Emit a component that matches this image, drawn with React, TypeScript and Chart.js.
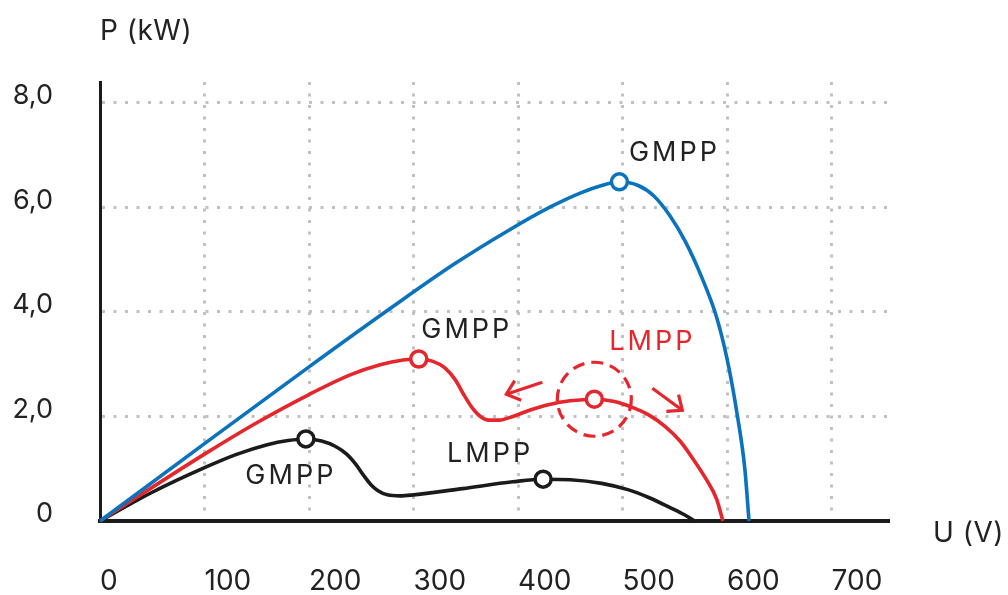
import React, { useEffect, useRef } from "react";
import { Chart, registerables } from "chart.js";
Chart.register(...registerables);

// Axis ticks
const xTickValues = [0, 100, 200, 300, 400, 500, 600, 700];
const yTickValues = [0, 2, 4, 6, 8];

// Blue curve (full irradiance)
const blueU = [0, 100, 200, 280, 340, 390, 430, 460, 480, 497, 515, 530, 545, 560, 575, 590, 600, 610, 617, 621];
const blueP = [0, 1.48, 2.95, 4.1, 4.93, 5.55, 6.0, 6.28, 6.42, 6.49, 6.42, 6.22, 5.85, 5.35, 4.7, 3.9, 3.1, 2.0, 1.0, 0];

// Red curve (partial shading)
const redU = [0, 100, 150, 200, 240, 268, 290, 305, 318, 330, 340, 348, 356, 364, 372, 382, 395, 411, 430, 450, 473, 491, 510, 525, 540, 555, 567, 580, 590, 596];
const redP = [0, 1.28, 1.88, 2.42, 2.8, 2.99, 3.08, 3.1, 3.06, 2.93, 2.7, 2.42, 2.17, 2.0, 1.93, 1.93, 2.0, 2.12, 2.23, 2.3, 2.33, 2.29, 2.17, 2.03, 1.82, 1.53, 1.2, 0.8, 0.42, 0];

// Black curve (heavy shading)
const blackU = [0, 50, 100, 130, 160, 180, 197, 212, 225, 236, 245, 252, 259, 266, 275, 287, 300, 347, 395, 424, 450, 480, 505, 525, 545, 560, 569];
const blackP = [0, 0.55, 1.02, 1.27, 1.46, 1.54, 1.57, 1.53, 1.43, 1.28, 1.08, 0.88, 0.7, 0.58, 0.5, 0.48, 0.5, 0.62, 0.75, 0.8, 0.79, 0.72, 0.6, 0.45, 0.26, 0.11, 0];

// Marked points (MPP)
const blueMarkU = [497];
const blueMarkP = [6.49];
const redMarkU = [305, 473];
const redMarkP = [3.1, 2.33];
const blackMarkU = [197, 424];
const blackMarkP = [1.57, 0.8];

// Point labels
const labelTexts = ["GMPP", "GMPP", "LMPP", "GMPP", "LMPP"];
const labelU = [497, 305, 473, 197, 424];
const labelP = [6.49, 3.1, 2.33, 1.57, 0.8];

const BLUE = "#0b73bd";
const RED = "#e5262c";
const BLACK = "#1b1b1b";
const TEXT = "#222222";
const GRID = "#c2c2c2";
const FONT = "Inter, 'Noto Sans', sans-serif";

const labelStyle = [
  { dx: 55, dy: -29, color: TEXT },
  { dx: 48, dy: -29, color: TEXT },
  { dx: 58, dy: -57, color: RED },
  { dx: -15, dy: 37, color: TEXT },
  { dx: -53, dy: -25, color: TEXT },
];

const zip = (u: number[], p: number[]) => u.map((x, i) => ({ x, y: p[i] }));

const overlay = {
  id: "overlay",
  afterDatasetsDraw(chart: any) {
    const { ctx, scales, chartArea } = chart;
    const xs = scales.x;
    const ys = scales.y;
    ctx.save();
    // point labels
    ctx.font = `400 27px ${FONT}`;
    (ctx as any).letterSpacing = "3px";
    ctx.textAlign = "center";
    ctx.textBaseline = "middle";
    labelTexts.forEach((t, i) => {
      const px = xs.getPixelForValue(labelU[i]) + labelStyle[i].dx;
      const py = ys.getPixelForValue(labelP[i]) + labelStyle[i].dy;
      ctx.fillStyle = labelStyle[i].color;
      ctx.fillText(t, px, py);
    });
    // dashed circle + arrows round red LMPP
    const cx = xs.getPixelForValue(redMarkU[1]);
    const cy = ys.getPixelForValue(redMarkP[1]);
    ctx.strokeStyle = RED;
    ctx.lineWidth = 3.2;
    ctx.setLineDash([12, 7]);
    ctx.beginPath();
    ctx.arc(cx, cy, 37, 0, Math.PI * 2);
    ctx.stroke();
    ctx.setLineDash([]);
    ctx.lineCap = "butt";
    const arrow = (x1: number, y1: number, x2: number, y2: number) => {
      ctx.beginPath();
      ctx.moveTo(x1, y1);
      ctx.lineTo(x2, y2);
      ctx.stroke();
      const a = Math.atan2(y2 - y1, x2 - x1);
      const L = 16;
      ctx.beginPath();
      ctx.moveTo(x2 + L * Math.cos(a + Math.PI - 0.7), y2 + L * Math.sin(a + Math.PI - 0.7));
      ctx.lineTo(x2, y2);
      ctx.lineTo(x2 + L * Math.cos(a + Math.PI + 0.7), y2 + L * Math.sin(a + Math.PI + 0.7));
      ctx.stroke();
    };
    arrow(cx - 52, cy - 17, cx - 88, cy - 5);
    arrow(cx + 58, cy - 11, cx + 88, cy + 11);
    // axis titles
    ctx.fillStyle = TEXT;
    ctx.font = `400 28px ${FONT}`;
    (ctx as any).letterSpacing = "0.5px";
    ctx.textAlign = "left";
    ctx.textBaseline = "middle";
    ctx.fillText("P (kW)", chartArea.left, chartArea.top - 50);
    ctx.fillText("U (V)", chartArea.right + 45, chartArea.bottom + 13);
    ctx.restore();
  },
};

export default function App() {
  const ref = useRef<HTMLCanvasElement | null>(null);
  useEffect(() => {
    if (!ref.current) return;
    const lineDs = (data: any, color: string, order: number) => ({
      type: "line",
      data,
      borderColor: color,
      borderWidth: 3.6,
      pointRadius: 0,
      fill: false,
      cubicInterpolationMode: "monotone",
      order,
      clip: false,
    });
    const markDs = (data: any, color: string) => ({
      type: "line",
      data,
      showLine: false,
      pointRadius: 8,
      pointBorderWidth: 3.5,
      pointBackgroundColor: "#ffffff",
      pointBorderColor: color,
      borderColor: color,
      order: 0,
      clip: false,
    });
    const chart = new Chart(ref.current, {
      type: "line",
      data: {
        datasets: [
          markDs(zip(blueMarkU, blueMarkP), BLUE),
          markDs(zip(redMarkU, redMarkP), RED),
          markDs(zip(blackMarkU, blackMarkP), BLACK),
          lineDs(zip(blueU, blueP), BLUE, 1),
          lineDs(zip(redU, redP), RED, 2),
          lineDs(zip(blackU, blackP), BLACK, 3),
        ] as any,
      },
      options: {
        responsive: false,
        animation: false,
        devicePixelRatio: 1,
        layout: { padding: { left: 0, top: 82, right: 120, bottom: 0 } },
        plugins: { legend: { display: false }, tooltip: { enabled: false } },
        scales: {
          x: {
            type: "linear",
            min: 0,
            max: 754,
            afterBuildTicks: (s: any) => {
              s.ticks = xTickValues.map((v) => ({ value: v }));
            },
            afterFit: (s: any) => {
              s.height = 74;
            },
            grid: {
              drawTicks: false,
              lineWidth: 3,
              color: (c: any) => (c.tick && c.tick.value === 0 ? "rgba(0,0,0,0)" : GRID),
            },
            border: { display: true, color: BLACK, width: 4, dash: [3, 8.5] },
            ticks: {
              align: "start",
              padding: 44,
              color: TEXT,
              font: { family: FONT, size: 28, weight: "400" },
              callback: (v: any) => String(v),
            },
          },
          y: {
            type: "linear",
            min: 0,
            max: 8.4,
            afterBuildTicks: (s: any) => {
              s.ticks = yTickValues.map((v) => ({ value: v }));
            },
            afterFit: (s: any) => {
              s.width = 100;
            },
            grid: {
              drawTicks: false,
              lineWidth: 3,
              color: (c: any) => (c.tick && c.tick.value === 0 ? "rgba(0,0,0,0)" : GRID),
            },
            border: { display: true, color: BLACK, width: 3, dash: [3, 8.5] },
            ticks: {
              padding: 47,
              labelOffset: -7,
              color: TEXT,
              font: { family: FONT, size: 27, weight: "400" },
              callback: (v: any) => (v === 0 ? "0" : Number(v).toFixed(1).replace(".", ",")),
            },
          },
        },
      } as any,
      plugins: [overlay],
    });
    return () => chart.destroy();
  }, []);
  return (
    <canvas
      ref={ref}
      width={1008}
      height={595}
      style={{ position: "absolute", left: 0, top: 0, width: 1008, height: 595 }}
    />
  );
}
